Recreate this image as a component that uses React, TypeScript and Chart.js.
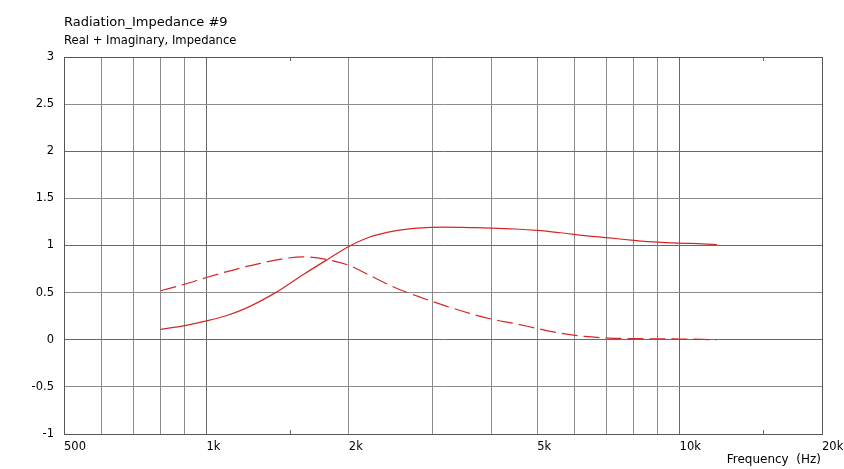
import React, { useEffect, useRef } from 'react';
import { Chart, registerables } from 'chart.js';

Chart.register(...registerables);

const frequencies = [800, 900, 1000, 1100, 1200, 1300, 1400, 1600, 1800, 2000, 2200, 2500, 2800, 3200, 3600, 4000, 4500, 5000, 5600, 6300, 7100, 8000, 9000, 10000, 11200, 12000];
const realPart = [0.11, 0.15, 0.2, 0.255, 0.325, 0.41, 0.5, 0.69, 0.85, 0.99, 1.085, 1.155, 1.185, 1.195, 1.19, 1.185, 1.175, 1.16, 1.135, 1.105, 1.08, 1.055, 1.035, 1.025, 1.018, 1.01];
const imagPart = [0.52, 0.59, 0.66, 0.72, 0.77, 0.81, 0.845, 0.88, 0.85, 0.79, 0.69, 0.555, 0.46, 0.36, 0.28, 0.22, 0.17, 0.12, 0.07, 0.035, 0.018, 0.012, 0.01, 0.008, 0.004, 0.0];

const xGridValues = [500, 600, 700, 800, 900, 1000, 2000, 3000, 4000, 5000, 6000, 7000, 8000, 9000, 10000, 20000];
const xTickLabels: Record<number, string> = { 500: '500', 1000: '1k', 2000: '2k', 5000: '5k', 10000: '10k', 20000: '20k' };
const xMinorTicks = [1500, 15000];
const xDarkLines = [1000, 10000];

const titleText = 'Radiation_Impedance #9';
const subtitleText = 'Real + Imaginary, Impedance';
const xAxisTitle = 'Frequency  (Hz)';

const FONT = '"DejaVu Sans", Verdana, sans-serif';
const LIGHT = '#8c8c8c';
const DARK = '#686868';
const RED = '#d42828';

export default function App() {
  const ref = useRef<HTMLCanvasElement | null>(null);

  useEffect(() => {
    const canvas = ref.current;
    if (!canvas) return;

    const decor = {
      id: 'decor',
      afterDraw(chart: any) {
        const ctx = chart.ctx;
        const area = chart.chartArea;
        const xs = chart.scales.x;
        ctx.save();
        ctx.strokeStyle = DARK;
        ctx.lineWidth = 1;
        xMinorTicks.forEach((v) => {
          const px = Math.round(xs.getPixelForValue(v)) + 0.5;
          ctx.beginPath();
          ctx.moveTo(px, area.top);
          ctx.lineTo(px, area.top + 4);
          ctx.moveTo(px, area.bottom);
          ctx.lineTo(px, area.bottom - 4);
          ctx.stroke();
        });
        ctx.fillStyle = '#000';
        ctx.textBaseline = 'alphabetic';
        ctx.textAlign = 'left';
        ctx.font = `13px ${FONT}`;
        ctx.fillText(titleText, area.left, 26);
        ctx.font = `11.6px ${FONT}`;
        ctx.fillText(subtitleText, area.left, 44);
        ctx.font = `12px ${FONT}`;
        ctx.textAlign = 'right';
        ctx.fillText(xAxisTitle, area.right - 1, 463);
        ctx.restore();
      },
    };

    const chart = new Chart(canvas, {
      type: 'line',
      data: {
        datasets: [
          {
            label: 'Real',
            data: frequencies.map((f, i) => ({ x: f, y: realPart[i] })),
            borderColor: RED,
            borderWidth: 1.2,
            pointRadius: 0,
            cubicInterpolationMode: 'monotone',
            fill: false,
          },
          {
            label: 'Imaginary',
            data: frequencies.map((f, i) => ({ x: f, y: imagPart[i] })),
            borderColor: RED,
            borderWidth: 1.2,
            borderDash: [16, 6],
            pointRadius: 0,
            cubicInterpolationMode: 'monotone',
            fill: false,
          },
        ],
      },
      options: {
        animation: false,
        responsive: false,
        devicePixelRatio: 1,
        layout: { padding: { top: 57, left: 0, right: 0, bottom: 0 } },
        plugins: {
          legend: { display: false },
          title: { display: false },
          tooltip: { enabled: false },
        },
        scales: {
          x: {
            type: 'logarithmic',
            min: 500,
            max: 20000,
            afterBuildTicks: (scale: any) => {
              scale.ticks = xGridValues.map((v) => ({ value: v }));
            },
            afterFit: (scale: any) => {
              scale.height = 35;
              scale.paddingLeft = 0;
              scale.paddingRight = 22;
            },
            ticks: {
              autoSkip: false,
              maxRotation: 0,
              minRotation: 0,
              align: 'start',
              padding: 6,
              color: '#000',
              font: { family: FONT, size: 11.5 },
              callback: (value: any) => xTickLabels[Number(value)] ?? '',
            },
            grid: {
              drawTicks: false,
              tickLength: 0,
              color: (ctx: any) => {
                const v = ctx.tick?.value;
                if (v === 20000) return '#555';
                return xDarkLines.includes(v) ? DARK : LIGHT;
              },
            },
            border: { color: '#555', width: 1 },
          },
          y: {
            type: 'linear',
            min: -1,
            max: 3,
            afterFit: (scale: any) => {
              scale.width = 64;
            },
            ticks: {
              stepSize: 0.5,
              padding: 10,
              color: '#000',
              font: { family: FONT, size: 11.5 },
              callback: (value: any) => String(value),
            },
            grid: {
              drawTicks: false,
              tickLength: 0,
              color: (ctx: any) => {
                const v = ctx.tick?.value;
                if (v === 3) return '#555';
                return Number.isInteger(v) ? DARK : LIGHT;
              },
            },
            border: { color: '#555', width: 1 },
          },
        },
      },
      plugins: [decor],
    } as any);

    return () => chart.destroy();
  }, []);

  return (
    <div style={{ position: 'fixed', left: 0, top: 0, width: 844, height: 469, background: '#fff' }}>
      <canvas ref={ref} width={844} height={469} style={{ display: 'block' }} />
    </div>
  );
}
